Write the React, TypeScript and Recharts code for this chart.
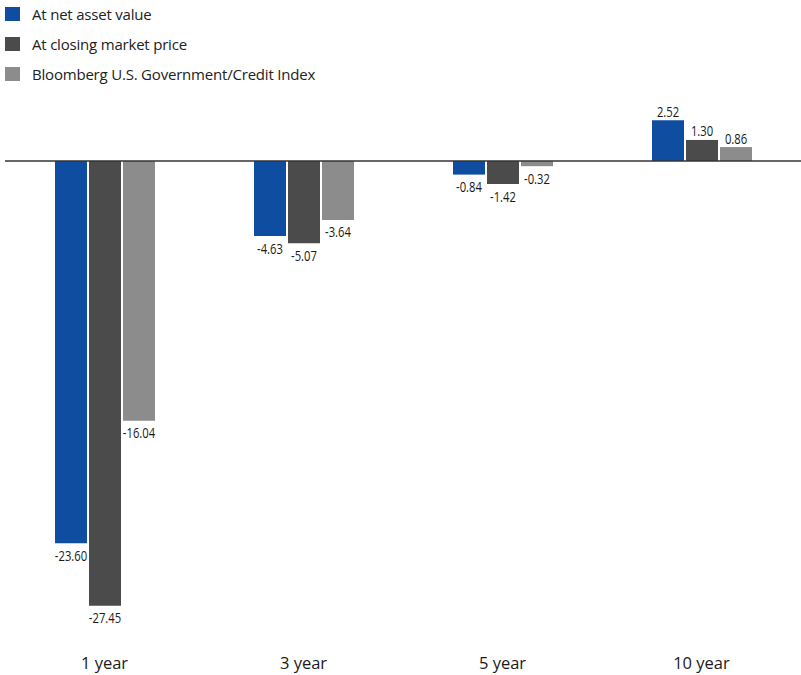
import React from 'react';
import { BarChart, Bar, XAxis, YAxis, ReferenceLine, LabelList } from 'recharts';

const periods = ['1 year', '3 year', '5 year', '10 year'];
const navReturns = [-23.6, -4.63, -0.84, 2.52];
const marketReturns = [-27.45, -5.07, -1.42, 1.3];
const indexReturns = [-16.04, -3.64, -0.32, 0.86];

const seriesNames = ['At net asset value', 'At closing market price', 'Bloomberg U.S. Government/Credit Index'];
const seriesColors = ['#0e4da0', '#4b4b4b', '#8c8c8c'];
const seriesKeys = ['nav', 'market', 'index'];

const data = periods.map((period, i) => ({
  period,
  nav: navReturns[i],
  market: marketReturns[i],
  index: indexReturns[i],
}));

// condensed look: squeeze a regular face horizontally
const ValueLabel = (props: any) => {
  const { x, y, width, height, value } = props;
  const neg = value < 0;
  const cx = x + width / 2;
  const edge = neg ? Math.max(y, y + height) : Math.min(y, y + height);
  const ty = neg ? edge + 17.5 : edge - 3.5;
  return (
    <text
      transform={`translate(${cx},${ty}) scale(0.75,1)`}
      textAnchor="middle"
      fontSize={15}
      fontFamily='"Open Sans", sans-serif'
      fill="#1a1a1a"
    >
      {value.toFixed(2)}
    </text>
  );
};

export default function App() {
  return (
    <div style={{ position: 'absolute', left: 0, top: 0, width: 801, height: 675, background: '#fff' }}>
      {/* legend */}
      <div style={{ position: 'absolute', left: 5, top: 0, fontFamily: '"Open Sans", sans-serif', fontSize: 15, letterSpacing: -0.2, color: '#222' }}>
        {seriesNames.map((name, i) => (
          <div key={name} style={{ display: 'flex', alignItems: 'center', height: 30, marginTop: i === 0 ? -1 : 0 }}>
            <span style={{ width: 15, height: 14, background: seriesColors[i], display: 'inline-block', marginRight: 12 }} />
            <span>{name}</span>
          </div>
        ))}
      </div>
      <BarChart
        width={801}
        height={675}
        data={data}
        margin={{ top: 80, right: 0, left: 5, bottom: 0 }}
        barCategoryGap="25%"
        barGap={2}
        barSize={32}
      >
        <XAxis
          dataKey="period"
          axisLine={false}
          tickLine={false}
          height={28}
          tick={{ fontSize: 16.5, fill: '#1a1a1a', fontFamily: '"Open Sans", sans-serif' }}
          dy={2}
        />
        <YAxis hide domain={[-30, 5]} />
        <ReferenceLine y={0} stroke="#333" strokeWidth={1.5} />
        {seriesKeys.map((k, i) => (
          <Bar key={k} dataKey={k} name={seriesNames[i]} fill={seriesColors[i]} isAnimationActive={false}>
            <LabelList dataKey={k} content={<ValueLabel />} />
          </Bar>
        ))}
      </BarChart>
    </div>
  );
}
